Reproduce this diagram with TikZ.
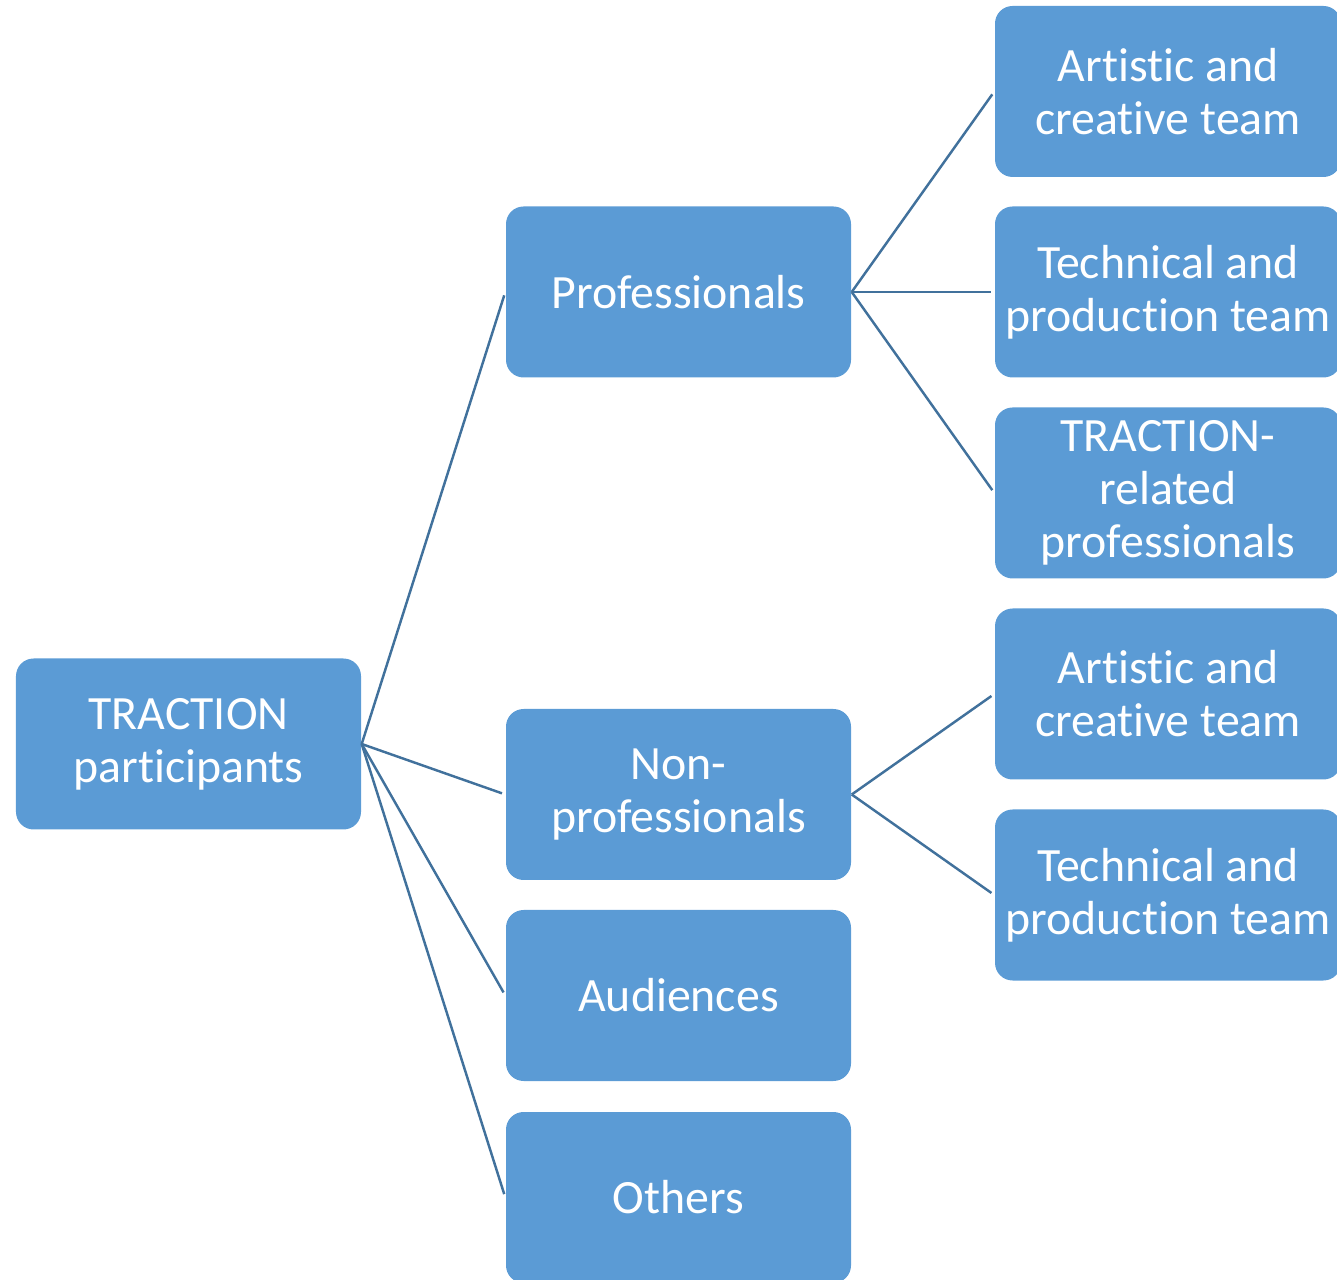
\documentclass[tikz,border=0pt]{standalone}
\usepackage{fontspec}
\setmainfont[Ligatures={NoCommon}]{Carlito}
\usepackage{xcolor}
\definecolor{boxblue}{HTML}{5B9BD5}
\definecolor{lineblue}{HTML}{41719C}

\begin{document}
\begin{tikzpicture}[
        box/.style={
            rectangle,
            rounded corners=5pt,
            fill=boxblue,
            minimum width=3.45cm,
            minimum height=1.71cm,
            align=center,
            text=white,
            inner sep=0pt,
            font=\fontsize{13.6}{15.1}\selectfont
        },
        wide/.style={
            box,
            minimum width=3.46cm % right column runs off the page
        },
        link/.style={
            draw=lineblue,
            line width=0.7pt,
            shorten >=1pt
        }
    ]
        \useasboundingbox (0,0) rectangle (13.37,-12.8);

        % root and first level
        \node (root) [box] at (1.885,-7.44) {TRACTION\\participants};
        \node (prof) [box] at (6.785,-2.92) {Professionals};
        \node (nonprof) [box] at (6.785,-7.945) {Non-\\professionals};
        \node (aud) [box] at (6.785,-9.955) {Audiences};
        \node (others) [box] at (6.785,-11.975) {Others};

        % second level
        \node (art1) [wide] at (11.68,-0.915) {Artistic and\\creative team};
        \node (tech1) [wide] at (11.68,-2.92) {Technical and\\production team};
        \node (rel) [wide] at (11.68,-4.93) {TRACTION-\\related\\professionals};
        \node (art2) [wide] at (11.68,-6.94) {Artistic and\\creative team};
        \node (tech2) [wide] at (11.68,-8.95) {Technical and\\production team};

        \draw[link] (root.east) -- (prof.west);
        \draw[link] (root.east) -- (nonprof.west);
        \draw[link] (root.east) -- (aud.west);
        \draw[link] (root.east) -- (others.west);

        \draw[link] (prof.east) -- (art1.west);
        \draw[link] (prof.east) -- (tech1.west);
        \draw[link] (prof.east) -- (rel.west);
        \draw[link] (nonprof.east) -- (art2.west);
        \draw[link] (nonprof.east) -- (tech2.west);
    \end{tikzpicture}
\end{document}
